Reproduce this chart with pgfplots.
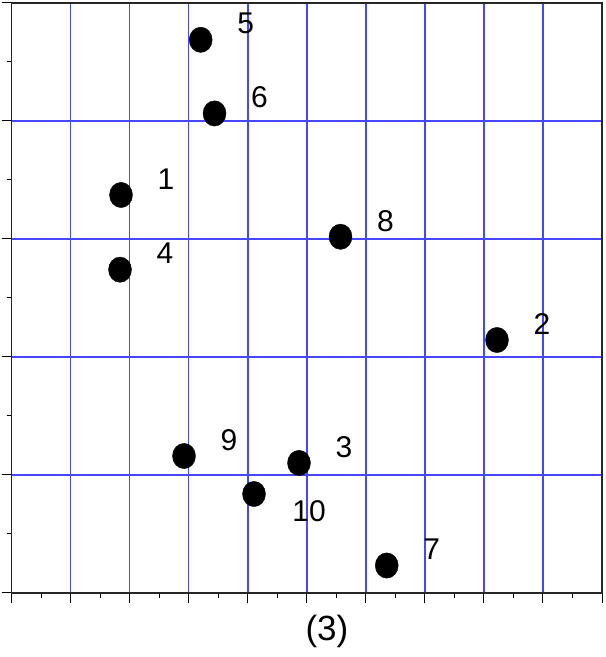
\documentclass[border=0pt]{standalone}
\usepackage{pgfplots}
\pgfplotsset{compat=1.18}
\usepackage{fontspec}
\setmainfont{Liberation Sans}
\definecolor{gridblue}{RGB}{70,70,255}
\begin{document}
\begin{tikzpicture}
\begin{axis}[
 scale only axis, width=590.3pt, height=590pt,
 xmin=0,xmax=10,ymin=0,ymax=5,
 xtick={0,...,10}, ytick={0,...,5},
 minor x tick num=1, minor y tick num=1,
 xticklabels={}, yticklabels={},
 xtick pos=bottom, ytick pos=left,
 tick align=outside,
 major tick length=10pt, minor tick length=5pt,
 every major tick/.append style={line width=1pt, black},
 every minor tick/.append style={line width=1pt, black},
 grid=major,
 major grid style={color=gridblue, line width=1.4pt},
 axis line style={line width=1.2pt, black!85},
 clip=false,
 xlabel={(3)},
 xlabel style={at={(axis description cs:0.534,-0.0644)}, anchor=center, font=\fontsize{35}{40}\selectfont},
]
\addplot[only marks, mark=*, mark size=11.5pt, mark options={yscale=1.1, fill=black, draw=black},
  point meta=explicit symbolic, nodes near coords,
  every node near coord/.style={anchor=center, xshift=45pt, yshift=16pt, font=\fontsize{30}{36}\selectfont, black}]
 table[meta=label] {
x y label
1.852 3.373 1
8.221 2.144 2
4.867 1.102 3
1.835 2.740 4
3.202 4.688 5
3.436 4.064 6
6.353 0.233 7
5.570 3.019 8
2.919 1.161 9
};
\addplot[only marks, mark=*, mark size=11.5pt, mark options={yscale=1.1, fill=black, draw=black},
  point meta=explicit symbolic, nodes near coords,
  every node near coord/.style={anchor=center, xshift=55pt, yshift=-17pt, font=\fontsize{30}{36}\selectfont, black}]
 table[meta=label] {
x y label
4.105 0.839 10
};
\coordinate (bl) at (rel axis cs:0,0);
\coordinate (tr) at (rel axis cs:1,1);
\end{axis}
\pgfresetboundingbox
\path ([shift={(-11.7pt,-64pt)}]bl) rectangle ([shift={(3pt,3pt)}]tr);
\end{tikzpicture}
\end{document}
